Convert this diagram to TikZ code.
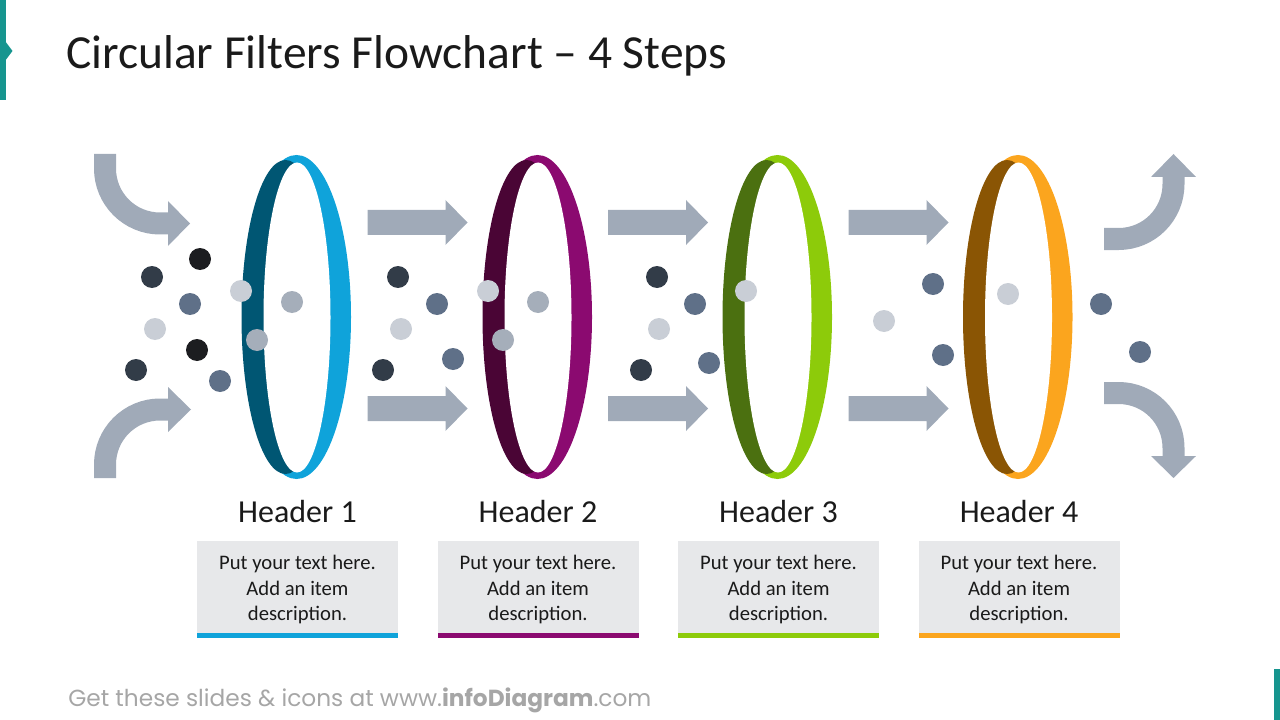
\documentclass[tikz,border=0pt]{standalone}
\usepackage{fontspec}
\setmainfont{Carlito}
\newfontfamily\footfont{Poppins}
\definecolor{teal}{HTML}{16958F}
\definecolor{agray}{HTML}{A0AAB8}
\definecolor{boxgray}{HTML}{E7E8EA}
\definecolor{txt}{HTML}{1A1A1A}
\definecolor{footgray}{HTML}{A6A6A6}
\definecolor{dblack}{HTML}{1C1D20}
\definecolor{ddark}{HTML}{323C48}
\definecolor{dslate}{HTML}{5F7088}
\definecolor{dlight}{HTML}{C9CED6}
\definecolor{dgray}{HTML}{A5AEBA}
\definecolor{ringAb}{HTML}{0FA3DA}
\definecolor{ringAd}{HTML}{005673}
\definecolor{ringBb}{HTML}{8B0A70}
\definecolor{ringBd}{HTML}{4A0535}
\definecolor{ringCb}{HTML}{8DCB0A}
\definecolor{ringCd}{HTML}{4B7010}
\definecolor{ringDb}{HTML}{FBA51E}
\definecolor{ringDd}{HTML}{8A5504}
\newcommand\filterring[3]{%
  \fill[#2] (#1,317) ellipse [x radius=54.5, y radius=162];
  \fill[#3] (#1-11,317) ellipse [x radius=44, y radius=157];
  \fill[white] (#1+0.5,317.5) ellipse [x radius=33.5, y radius=155];
}
\newcommand\filterdot[3]{\fill[#3] (#1,#2) circle [radius=11];}
\tikzset{
  straightarrow/.pic={\fill[agray] (0,-12.5) -- (78,-12.5) -- (78,-22.5) -- (100,0) -- (78,22.5) -- (78,12.5) -- (0,12.5) -- cycle;},
  shaft/.style={draw=agray, line width=16.5pt},
  headstyle/.style={font=\fontsize{24}{29}\selectfont, text=txt, inner sep=0pt, anchor=base},
  descstyle/.style={font=\fontsize{15.5}{19.2}\selectfont, text=txt, align=center, inner sep=0pt},
}
\begin{document}
\begin{tikzpicture}[x=0.75pt,y=-0.75pt]
\useasboundingbox (0,0) rectangle (1280,720);
% accent bars
\fill[teal] (0,0) rectangle (6,100);
\fill[teal] (5,41) -- (12.5,51) -- (5,61) -- cycle;
\fill[teal] (1274,669) rectangle (1280,720);
% title
\node[anchor=base west, inner sep=0pt, text=txt, font=\fontsize{35.6}{43}\selectfont] (title) at (66,69) {Circular Filters Flowchart – 4 Steps};
% curved arrows
\draw[shaft] (105,154) -- (105,168.5) .. controls (105,198.9) and (129.6,223.5) .. (160,223.5) -- (169,223.5);
\fill[agray] (168,201) -- (190,223.5) -- (168,246) -- cycle;
\draw[shaft] (105,478) -- (105,464.5) .. controls (105,434.1) and (129.6,409.5) .. (160,409.5) -- (169,409.5);
\fill[agray] (168,387) -- (191,409.5) -- (168,432) -- cycle;
\draw[shaft] (1104,239) -- (1118.5,239) .. controls (1148.9,239) and (1173.5,214.6) .. (1173.5,184) -- (1173.5,176);
\fill[agray] (1151,177) -- (1173.5,154) -- (1196,177) -- cycle;
\draw[shaft] (1104,393) -- (1118.5,393) .. controls (1148.9,393) and (1173.5,417.4) .. (1173.5,448) -- (1173.5,457);
\fill[agray] (1151,456) -- (1173.5,478) -- (1196,456) -- cycle;
% straight arrows
\foreach \x in {367.5,608,848.5}{
  \pic at (\x,222.5) {straightarrow};
  \pic at (\x,408.5) {straightarrow};
}
% rings
\filterring{296.5}{ringAb}{ringAd}
\filterring{537.5}{ringBb}{ringBd}
\filterring{777.5}{ringCb}{ringCd}
\filterring{1018}{ringDb}{ringDd}
% dots group 1
\filterdot{200}{259}{dblack}
\filterdot{152}{277}{ddark}
\filterdot{190}{304}{dslate}
\filterdot{155}{329}{dlight}
\filterdot{197}{350}{dblack}
\filterdot{136}{370}{ddark}
\filterdot{220}{381}{dslate}
\filterdot{241}{291}{dlight}
\filterdot{292}{302}{dgray}
\filterdot{257}{340}{dgray}
% group 2
\filterdot{398}{277}{ddark}
\filterdot{437}{304}{dslate}
\filterdot{401}{329}{dlight}
\filterdot{453}{359}{dslate}
\filterdot{383}{370}{ddark}
\filterdot{488}{291}{dlight}
\filterdot{538}{302}{dgray}
\filterdot{503}{340}{dgray}
% group 3
\filterdot{657}{277}{ddark}
\filterdot{695}{304}{dslate}
\filterdot{659}{329}{dlight}
\filterdot{709}{363}{dslate}
\filterdot{641}{370}{ddark}
\filterdot{746}{291}{dlight}
% group 4
\filterdot{884}{321}{dlight}
\filterdot{933}{284}{dslate}
\filterdot{943}{355}{dslate}
\filterdot{1008}{294}{dlight}
\filterdot{1101}{304}{dslate}
\filterdot{1140}{352}{dslate}
% headers and boxes
\foreach \cx/\col/\i in {297.5/ringAb/1, 538/ringBb/2, 778.5/ringCb/3, 1019/ringDb/4}{
  \fill[boxgray] (\cx-100.5,541) rectangle (\cx+100.5,633);
  \fill[\col] (\cx-100.5,632.5) rectangle (\cx+100.5,638);
  \node[headstyle] (head\i) at (\cx,522) {Header \i};
  \node[descstyle] (desc\i) at (\cx,589.5) {Put your text here.\\Add an item\\description.};
}
% footer
\node[anchor=base west, inner sep=0pt, text=footgray, font=\footfont\fontsize{17.45}{20}\selectfont] (foot) at (68,706) {Get these slides \& icons at www.\textbf{infoDiagram}.com};
\end{tikzpicture}
\end{document}
